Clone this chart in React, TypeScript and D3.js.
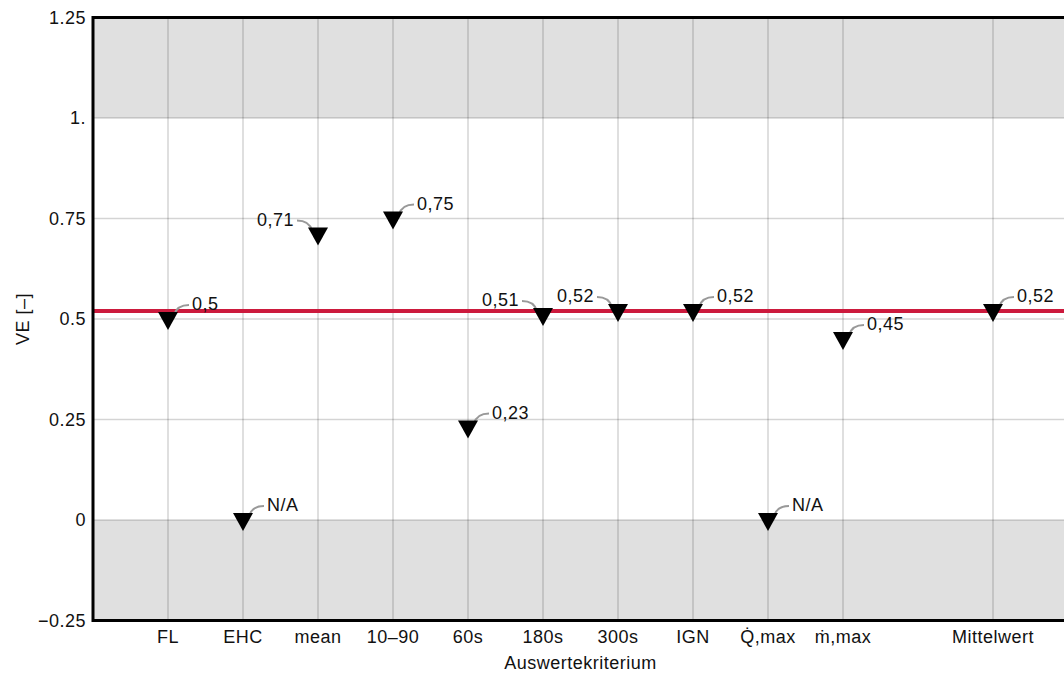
import React from "react";
import * as d3 from "d3";

const categories = ["FL", "EHC", "mean", "10–90", "60s", "180s", "300s", "IGN", "Q̇,max", "ṁ,max", "", "Mittelwert"];
const values: (number | null)[] = [0.5, 0, 0.71, 0.75, 0.23, 0.51, 0.52, 0.52, 0, 0.45, null, 0.52];
const valueLabels = ["0,5", "N/A", "0,71", "0,75", "0,23", "0,51", "0,52", "0,52", "N/A", "0,45", "", "0,52"];
const labelSides = ["r", "r", "l", "r", "r", "l", "l", "r", "r", "r", "", "r"];
const meanValue = 0.52;
const yTicks = [1.25, 1, 0.75, 0.5, 0.25, 0, -0.25];
const yTickLabels = ["1.25", "1.", "0.75", "0.5", "0.25", "0", "−0.25"];
const gridValues = [1, 0.75, 0.5, 0.25, 0];

const W = 1064;
const H = 680;
const left = 93;
const right = 1068;
const top = 17.5;
const bottom = 620.5;

export default function App() {
  const x = d3.scaleLinear().domain([0, 13]).range([left, right]);
  const y = d3.scaleLinear().domain([-0.25, 1.25]).range([bottom, top]);
  const font = "'Liberation Sans', Arial, sans-serif";
  const txt = { fontFamily: font, fontSize: 18, letterSpacing: 0.5, fill: "#111" } as any;
  const red = "#cc1a3d";

  return (
    <svg width={W} height={H} style={{ position: "absolute", left: 0, top: 0, background: "#fff" }}>
      {/* shaded bands */}
      <rect x={left} y={y(1.25)} width={right - left} height={y(1) - y(1.25)} fill="#e0e0e0" />
      <rect x={left} y={y(0)} width={right - left} height={y(-0.25) - y(0)} fill="#e0e0e0" />
      {/* gridlines */}
      {gridValues.map((v, i) => (
        <line key={"h" + i} x1={left} x2={right} y1={y(v)} y2={y(v)} stroke="#000" strokeOpacity={0.17} strokeWidth={1.5} />
      ))}
      {categories.map((c, i) =>
        c ? (
          <line key={"v" + i} x1={x(i + 1)} x2={x(i + 1)} y1={top} y2={bottom} stroke="#000" strokeOpacity={0.17} strokeWidth={1.5} />
        ) : null
      )}
      {/* mean line */}
      <line x1={left} x2={right} y1={y(meanValue)} y2={y(meanValue)} stroke={red} strokeWidth={4} />
      {/* callouts and labels */}
      {values.map((v, i) => {
        if (v === null) return null;
        const px = x(i + 1);
        const py = y(v);
        const s = labelSides[i] === "l" ? -1 : 1;
        const path = `M${px + s * 6},${py - 4} Q${px + s * 9},${py - 14} ${px + s * 21},${py - 14}`;
        return (
          <g key={"l" + i}>
            <path d={path} fill="none" stroke="#999" strokeWidth={2} />
            <text
              x={px + s * 24}
              y={py - 9}
              textAnchor={s < 0 ? "end" : "start"}
              style={txt}
            >
              {valueLabels[i]}
            </text>
          </g>
        );
      })}
      {/* markers */}
      {values.map((v, i) => {
        if (v === null) return null;
        const px = x(i + 1);
        const py = y(v);
        return <path key={"m" + i} d={`M${px - 10},${py - 7}L${px + 10},${py - 7}L${px},${py + 11}Z`} fill="#000" />;
      })}
      {/* frame */}
      <line x1={left} x2={right} y1={top} y2={top} stroke="#000" strokeWidth={3} />
      <line x1={left} x2={right} y1={bottom} y2={bottom} stroke="#000" strokeWidth={3} />
      <line x1={left} x2={left} y1={top - 1.5} y2={bottom + 1.5} stroke="#000" strokeWidth={3} />
      {/* y tick labels */}
      {yTicks.map((t, i) => (
        <text key={"yt" + i} x={86} y={y(t)} dy="0.36em" textAnchor="end" style={txt}>
          {yTickLabels[i]}
        </text>
      ))}
      {/* x tick labels */}
      {categories.map((c, i) =>
        c ? (
          <text key={"xt" + i} x={x(i + 1)} y={643} textAnchor="middle" style={txt}>
            {c}
          </text>
        ) : null
      )}
      <text x={(left + right) / 2} y={669} textAnchor="middle" style={txt}>
        Auswertekriterium
      </text>
      <text transform={`translate(29,${(top + bottom) / 2}) rotate(-90)`} textAnchor="middle" style={txt}>
        VE [–]
      </text>
    </svg>
  );
}
